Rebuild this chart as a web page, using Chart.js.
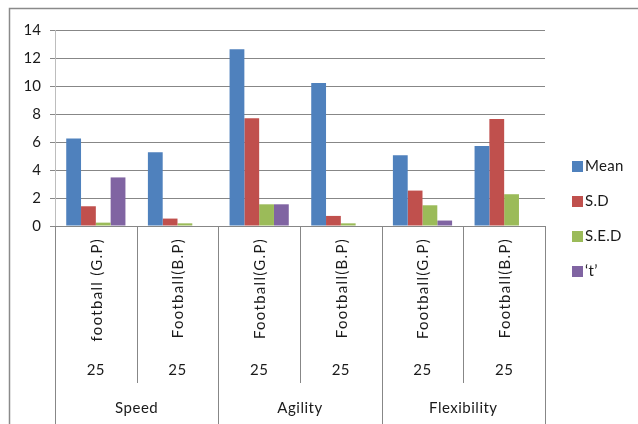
<!DOCTYPE html>
<html>
<head>
<meta charset="utf-8">
<script src="https://cdn.jsdelivr.net/npm/chart.js@4"></script>
<style>
  html, body { margin: 0; padding: 0; background: #fff; }
  #wrap { width: 638px; height: 424px; position: relative; }
</style>
</head>
<body>
<div id="wrap"><canvas id="c" width="638" height="424"></canvas></div>
<script>
// Test groups, sample sizes and the four statistics per test
const categories = ['football (G.P)', 'Football(B.P)', 'Football(G.P)', 'Football(B.P)', 'Football(G.P)', 'Football(B.P)'];
const sampleSizes = ['25', '25', '25', '25', '25', '25'];
const groups = ['Speed', 'Agility', 'Flexibility'];
const seriesNames = ['Mean', 'S.D', 'S.E.D', '\u2018t\u2019'];
const meanValues = [6.25, 5.26, 12.63, 10.22, 5.06, 5.71];
const sdValues = [1.41, 0.53, 7.69, 0.72, 2.53, 7.64];
const sedValues = [0.24, 0.19, 1.55, 0.19, 1.48, 2.27];
const tValues = [3.47, 0, 1.55, 0, 0.39, 0];
const yTicks = [0, 2, 4, 6, 8, 10, 12, 14];

const colors = ['#4F81BD', '#C0504D', '#9BBB59', '#8064A2'];
const FONT = 'Lato, "Open Sans", sans-serif';
const GRID = '#878787';
const TEXT = '#1a1a1a';

// Multi-level category axis, dividers, legend and frame
const decorations = {
  id: 'decorations',
  afterDraw(chart) {
    const ctx = chart.ctx;
    const x = chart.scales.x;
    const area = chart.chartArea;
    const bottom = area.bottom;
    const n = categories.length;
    const step = (x.getPixelForValue(1) - x.getPixelForValue(0));
    ctx.save();

    // category dividers
    ctx.strokeStyle = GRID;
    ctx.lineWidth = 1;
    for (let i = 0; i <= n; i++) {
      const px = Math.round(x.getPixelForValue(i) - step / 2) + 0.5;
      const isGroupEdge = i % 2 === 0;
      ctx.beginPath();
      ctx.moveTo(px, bottom);
      ctx.lineTo(px, isGroupEdge ? 424 : 383);
      ctx.stroke();
    }

    // rotated category labels and sample sizes
    ctx.fillStyle = TEXT;
    for (let i = 0; i < n; i++) {
      const cx = x.getPixelForValue(i);
      ctx.save();
      ctx.translate(cx + 1, 238);
      ctx.rotate(-Math.PI / 2);
      ctx.font = '15px ' + FONT;
      ctx.letterSpacing = '1.3px';
      ctx.textAlign = 'right';
      ctx.textBaseline = 'middle';
      ctx.fillText(categories[i], 0, 0);
      ctx.restore();

      ctx.font = '15px ' + FONT;
      ctx.letterSpacing = '0.5px';
      ctx.textAlign = 'center';
      ctx.textBaseline = 'middle';
      ctx.fillText(sampleSizes[i], cx, 370);
    }

    // group labels
    for (let g = 0; g < groups.length; g++) {
      const cx = (x.getPixelForValue(2 * g) + x.getPixelForValue(2 * g + 1)) / 2;
      ctx.font = '15px ' + FONT;
      ctx.letterSpacing = '0.5px';
      ctx.textAlign = 'center';
      ctx.textBaseline = 'middle';
      ctx.fillText(groups[g], cx, 408);
    }

    // legend
    const legendTop = 166;
    chart.data.datasets.forEach((ds, i) => {
      const ly = legendTop + i * 35;
      ctx.fillStyle = ds.backgroundColor;
      ctx.fillRect(572, ly - 5, 11, 11);
      ctx.fillStyle = TEXT;
      ctx.font = '15px ' + FONT;
      ctx.letterSpacing = '0.3px';
      ctx.textAlign = 'left';
      ctx.textBaseline = 'middle';
      ctx.fillText(ds.label, 585, ly);
    });

    // outer frame
    ctx.strokeStyle = '#8a8a8a';
    ctx.lineWidth = 1.5;
    ctx.strokeRect(9.5, 8.5, 700, 500);
    ctx.restore();
  }
};

new Chart(document.getElementById('c'), {
  type: 'bar',
  data: {
    labels: categories,
    datasets: [meanValues, sdValues, sedValues, tValues].map((vals, i) => ({
      label: seriesNames[i],
      data: vals,
      backgroundColor: colors[i],
      borderWidth: 0
    }))
  },
  options: {
    responsive: false,
    animation: false,
    events: [],
    layout: { padding: { top: 30, right: 93, left: 0, bottom: 0 } },
    plugins: { legend: { display: false }, tooltip: { enabled: false } },
    datasets: { bar: { barPercentage: 1, categoryPercentage: 0.725 } },
    scales: {
      x: {
        ticks: { display: false },
        grid: { display: false },
        border: { display: true, color: GRID, width: 1 },
        afterFit(scale) { scale.height = 198; }
      },
      y: {
        min: 0,
        max: 14,
        afterBuildTicks(scale) { scale.ticks = yTicks.map(v => ({ value: v })); },
        ticks: {
          color: TEXT,
          padding: 9,
          font: { family: FONT, size: 15 }
        },
        grid: { color: GRID, tickLength: 5, lineWidth: 1 },
        border: { display: true, color: '#bdbdbd', width: 1 },
        afterFit(scale) { scale.width = 55; }
      }
    }
  },
  plugins: [decorations]
});
</script>
</body>
</html>
